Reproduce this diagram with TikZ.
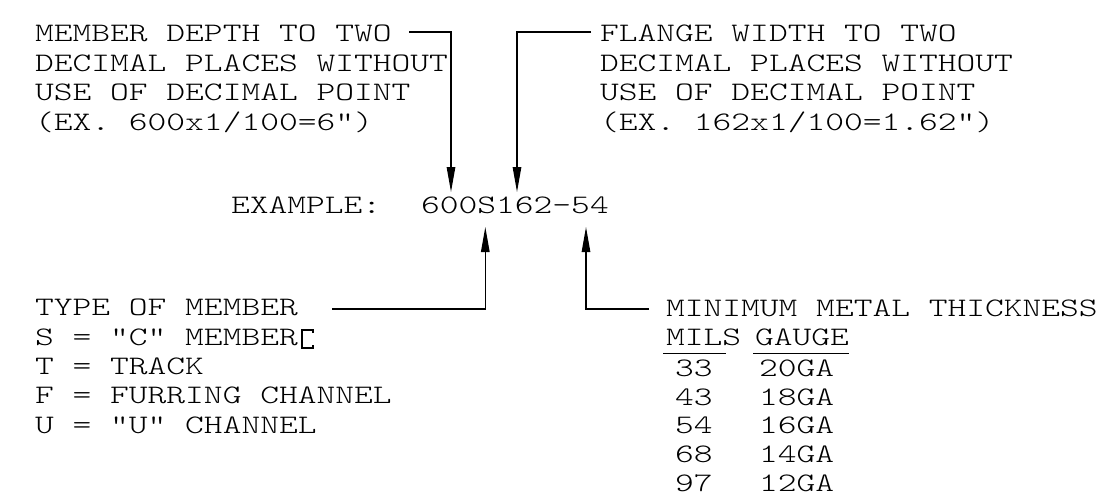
\documentclass[tikz,border=0pt]{standalone}
\usepackage{fontspec}
\setmonofont{lmmonolt10-regular.otf}[FakeStretch=1.338]
\usetikzlibrary{arrows.meta}

\begin{document}
\begin{tikzpicture}[
  x=1pt, y=-1pt,
  font=\ttfamily\fontsize{26.7}{29.4}\selectfont,
  txt/.style={anchor=base west, align=left, inner sep=0pt},
  tbl/.style={txt, font=\ttfamily\fontsize{26.7}{28.9}\selectfont},
  lead/.style={line width=1.2pt},
  >={Triangle[length=25pt,width=8.5pt]}
]
  \useasboundingbox (0,0) rectangle (1104,499);

  % ================= TOP: DEPTH AND FLANGE =================
  % (multi-line nodes sit on the baseline of their last line)
  \node[txt] (depth) at (35,130)
    {MEMBER DEPTH TO TWO\\DECIMAL PLACES WITHOUT\\USE OF DECIMAL POINT\\(EX. 600x1/100=6")};
  \node[txt] (flange) at (600,130)
    {FLANGE WIDTH TO TWO\\DECIMAL PLACES WITHOUT\\USE OF DECIMAL POINT\\(EX. 162x1/100=1.62")};

  % ================= MIDDLE: THE EXAMPLE =================
  \node[txt] (exlbl) at (231,213) {EXAMPLE:};
  \node[txt] (code) at (421,213) {600S162-54};

  % ================= BOTTOM: TYPE AND THICKNESS =================
  \node[txt] (type) at (35,433.3)
    {TYPE OF MEMBER\\S = "C" MEMBER\\T = TRACK\\F = FURRING CHANNEL\\U = "U" CHANNEL};
  % small C-section mark after "C" MEMBER
  \draw[lead] (313,333) -- (313,330) -- (302,330) -- (302,348) -- (313,348) -- (313,345);

  \node[txt] (thick) at (666,316.7) {MINIMUM METAL THICKNESS};
  \node[txt] (mils) at (666,345) {MILS};
  \node[txt] (gauge) at (755,345) {GAUGE};
  \draw[lead] ([xshift=-3pt,yshift=-8.3pt]mils.base west) -- ([xshift=-15pt,yshift=-8.3pt]mils.base east);
  \draw[lead] ([xshift=-2pt,yshift=-8.3pt]gauge.base west) -- ([yshift=-8.3pt]gauge.base east);
  \node[tbl] (milsval) at (675,491.7) {33\\43\\54\\68\\97};
  \node[tbl] (gaval) at (759,491.7) {20GA\\18GA\\16GA\\14GA\\12GA};

  % ================= LEADERS =================
  \coordinate (depthfrom) at (409,32);
  \coordinate (depthto) at (451,192);
  \coordinate (flangefrom) at (591,32);
  \coordinate (flangeto) at (517,192);
  \coordinate (typefrom) at (332,309);
  \coordinate (typeto) at (485.3,227);
  \coordinate (thickfrom) at (649,309);
  \coordinate (thickto) at (586,227);

  \draw[lead, ->] (depthfrom) -| (depthto);
  \draw[lead, ->] (flangefrom) -| (flangeto);
  \draw[lead, ->] (typefrom) -| (typeto);
  \draw[lead, ->] (thickfrom) -| (thickto);
\end{tikzpicture}
\end{document}
